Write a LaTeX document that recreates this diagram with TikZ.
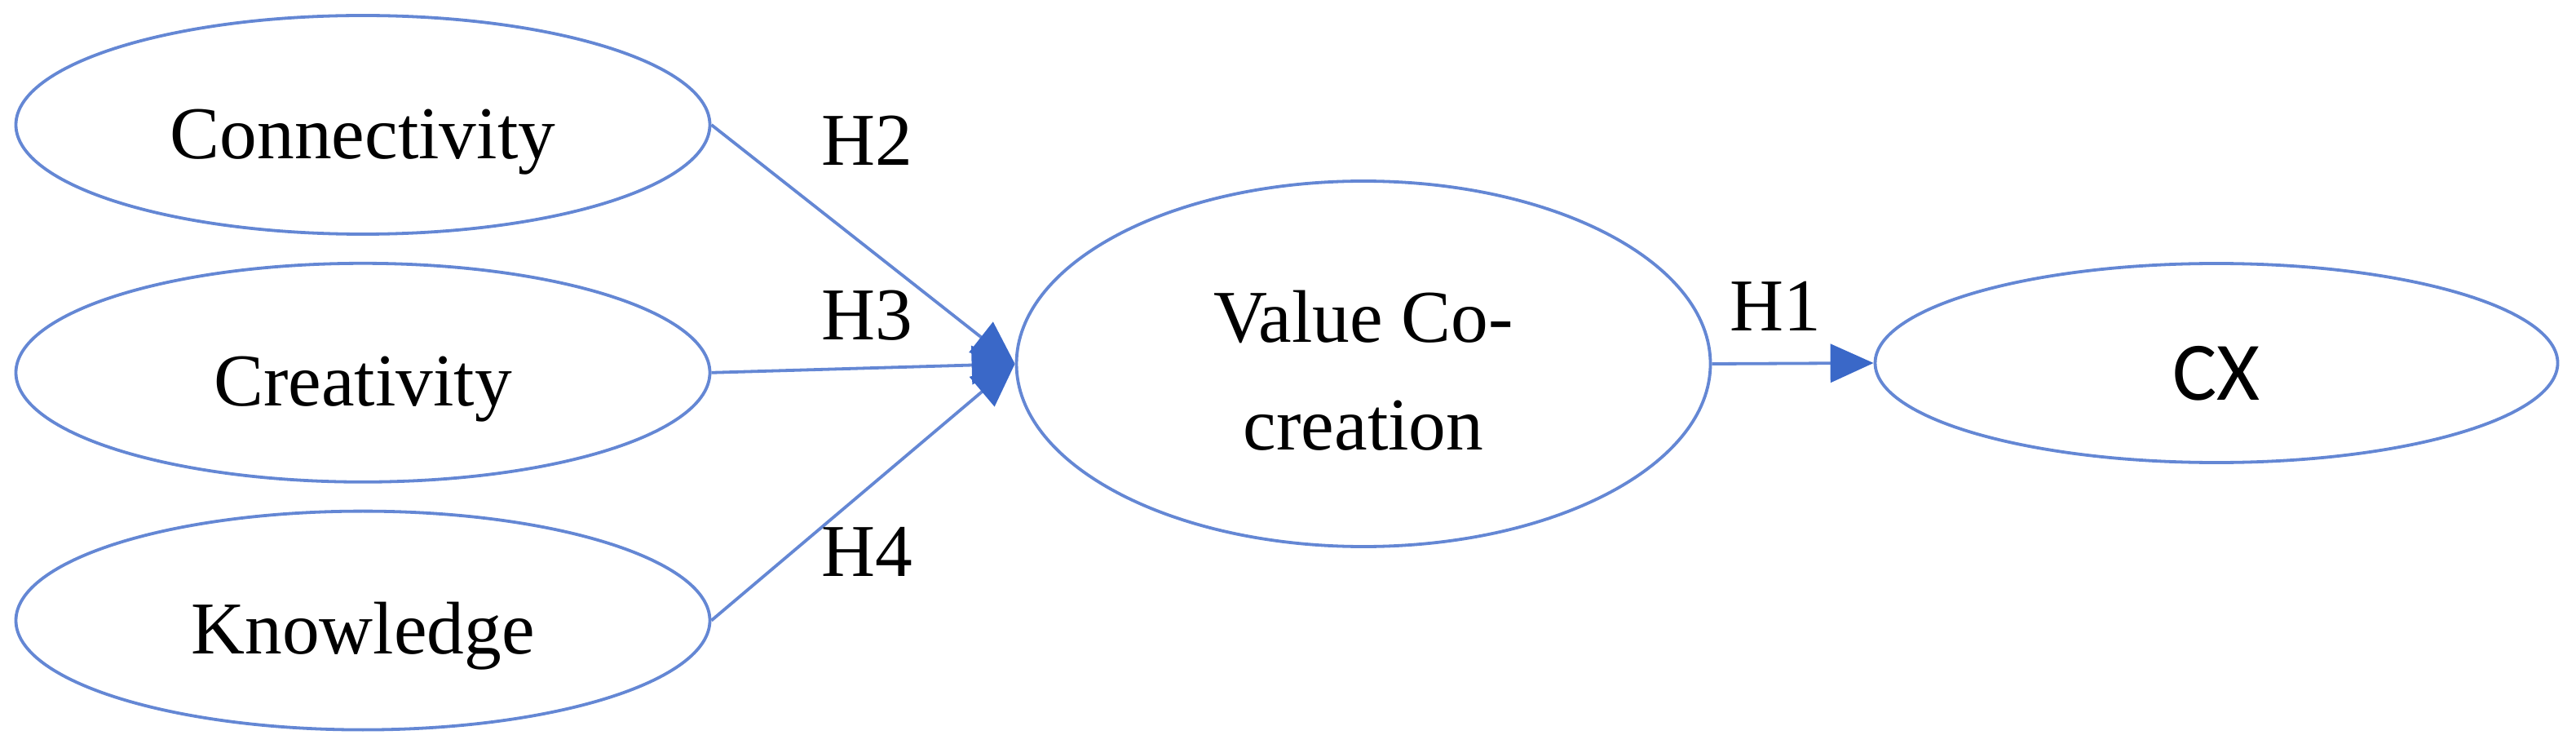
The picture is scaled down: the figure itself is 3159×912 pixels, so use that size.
\documentclass[tikz,border=0pt]{standalone}
\usepackage{fontspec}
\setmainfont{Liberation Serif}
\newfontfamily\cxfont{Carlito}
\usetikzlibrary{arrows.meta,positioning,shapes.geometric}
\definecolor{edgeblue}{RGB}{100,135,212}
\definecolor{tipblue}{RGB}{58,104,200}

\begin{document}
\begin{tikzpicture}[x=0.1mm, y=-0.1mm, font=\fontsize{26}{37.5}\selectfont, node distance=3.2mm, every node/.style={inner sep=0pt}]
        \tikzset{
            construct/.style={draw=edgeblue, line width=0.38mm, ellipse, minimum width=85.1mm, minimum height=26.8mm, text height=23.4pt, text depth=0pt},
            hyp/.style={anchor=base},
            arr/.style={-{Triangle[length=5.3mm, width=4.7mm, color=tipblue]}, draw=edgeblue, line width=0.38mm}
        }
        \useasboundingbox (0,0) rectangle (3159,912);

        \node[construct] (conn) at (445,153) {Connectivity};
        \node[construct, below=of conn] (crea) {Creativity};
        \node[construct, below=of crea] (know) {Knowledge};
        \node[construct, minimum height=44.8mm, text height=, text depth=, align=center] (vcc) at (1672,446) {\rule{0pt}{8mm}Value Co-\\creation};
        \node[construct, minimum width=83.7mm, minimum height=24.4mm, text height=26.1pt, font=\cxfont\fontsize{29}{35}\selectfont] (cx) at (2718,445) {CX};

        \draw[arr] (conn.east) -- (vcc.west);
        \draw[arr] (crea.east) -- (vcc.west);
        \draw[arr] (know.east) -- (vcc.west);
        \draw[arr] (vcc.east) -- (cx.west);

        \node[hyp] (h2) at (1063,203) {H2};
        \node[hyp] (h3) at (1063,416) {H3};
        \node[hyp] (h4) at (1063,706) {H4};
        \node[hyp] (h1) at (2177,405) {H1};
    \end{tikzpicture}
\end{document}
